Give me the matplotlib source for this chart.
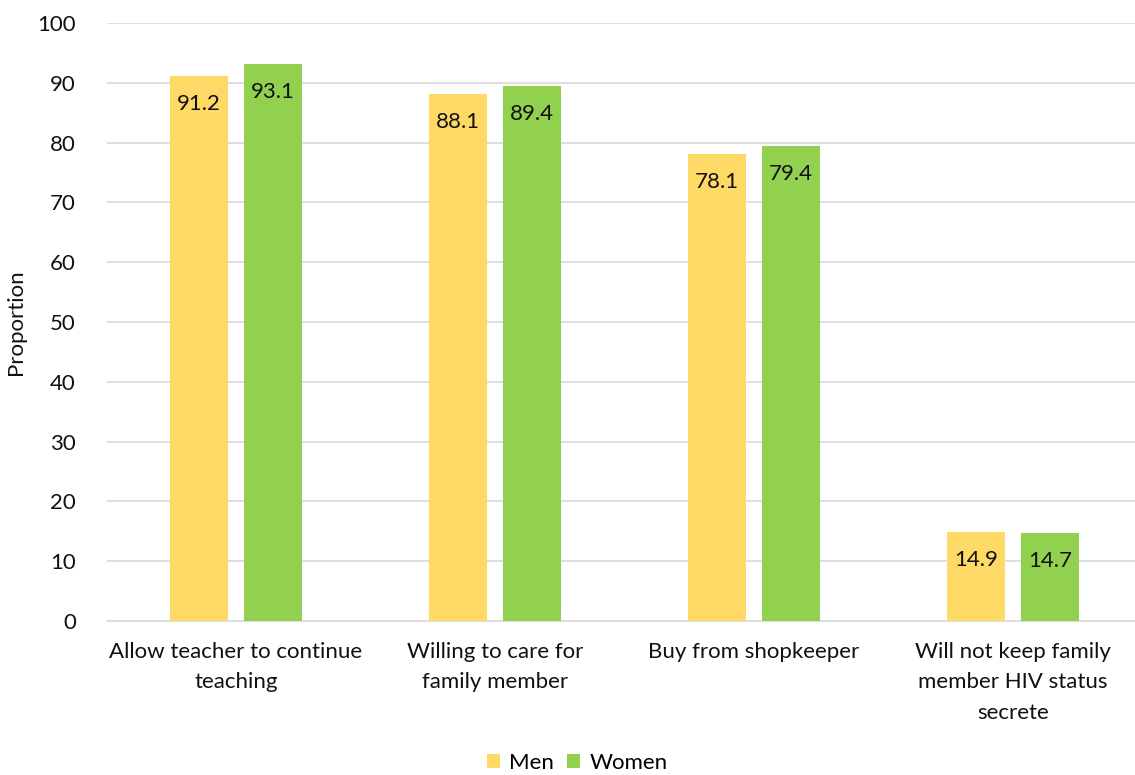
import matplotlib
matplotlib.use("Agg")
import matplotlib.pyplot as plt
import numpy as np

categories = ["Allow teacher to continue\nteaching", "Willing to care for\nfamily member",
              "Buy from shopkeeper", "Will not keep family\nmember HIV status\nsecrete"]
men = [91.2, 88.1, 78.1, 14.9]
women = [93.1, 89.4, 79.4, 14.7]
series_names = ["Men", "Women"]
colors = ["#FFD966", "#92D050"]

plt.rcParams['font.family'] = ['Lato', 'DejaVu Sans']
FS = 16
W, H = 1135, 775
fig = plt.figure(figsize=(W/100, H/100), dpi=100)
left, right = 106.5, 1135
top, bottom = 23, 621
ax = fig.add_axes([left/W, 1-bottom/H, (right-left)/W, (bottom-top)/H])

x = np.arange(len(categories))
bw = 0.224
off = 0.143
for vals, c, name, sgn in [(men, colors[0], series_names[0], -1), (women, colors[1], series_names[1], 1)]:
    bars = ax.bar(x + sgn*off, vals, bw, color=c, label=name, zorder=3)
    for b, v in zip(bars, vals):
        ax.annotate(f"{v}", (b.get_x()+b.get_width()/2, v), xytext=(0, -28),
                    textcoords="offset pixels",
                    ha="center", va="center", fontsize=FS, color="#111111", zorder=4)

ax.set_xlim(-0.5, (1135-236)/259)
ax.set_ylim(0, 100)
ax.set_yticks(range(0, 101, 10))
ax.yaxis.grid(True, color="#d9d9d9", linewidth=1.2, zorder=0)
ax.set_axisbelow(True)
for s in ["top", "right", "left"]:
    ax.spines[s].set_visible(False)
ax.spines["bottom"].set_color("#d9d9d9")
ax.spines["bottom"].set_linewidth(1.2)
ax.tick_params(axis="both", length=0, labelsize=FS, colors="#111111")
ax.tick_params(axis="y", pad=22)
ax.tick_params(axis="x", pad=15)
ax.set_xticks(x)
ax.set_xticklabels(categories, linespacing=1.65)
ax.set_ylabel("Proportion", fontsize=FS, labelpad=8, color="#111111")

fig.legend(loc="center", bbox_to_anchor=(577/W, 1-763/H), ncol=2, frameon=False,
           fontsize=FS, handlelength=0.6, handleheight=0.6, handletextpad=0.4, columnspacing=0.6)

fig.savefig("out.png", dpi=100)
